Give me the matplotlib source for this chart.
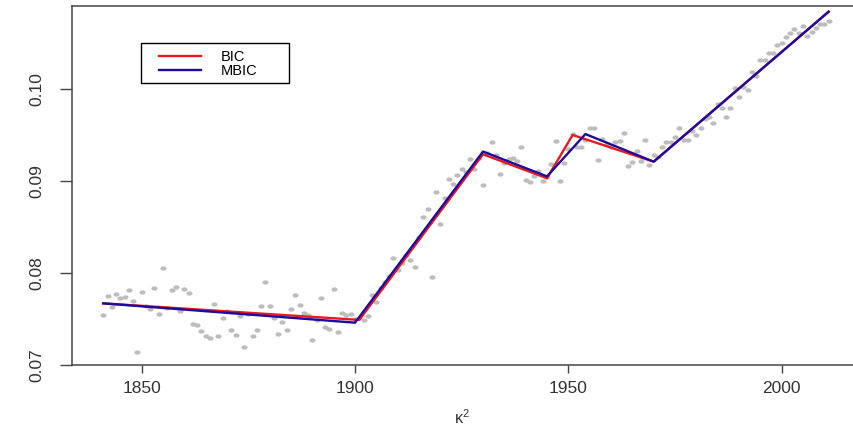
import numpy as np
import matplotlib
matplotlib.use("Agg")
import matplotlib.pyplot as plt
from matplotlib.path import Path

plt.rcParams['font.family'] = ['Liberation Sans', 'DejaVu Sans']
plt.rcParams['mathtext.fontset'] = 'custom'
plt.rcParams['mathtext.rm'] = 'Liberation Sans'
plt.rcParams['mathtext.it'] = 'Liberation Sans:italic'

# jaehrliche Beobachtungen 1841-2011
jahre = np.arange(1841, 2012)
werte = [
    0.0754, 0.0775, 0.0763, 0.0777, 0.0773, 0.0774, 0.0781, 0.0770, 0.0714, 0.0779,
    0.0764, 0.0761, 0.0784, 0.0755, 0.0805, 0.0762, 0.0781, 0.0785, 0.0759, 0.0783,
    0.0778, 0.0745, 0.0744, 0.0737, 0.0732, 0.0729, 0.0766, 0.0731, 0.0751, 0.0759,
    0.0738, 0.0733, 0.0753, 0.0720, 0.0755, 0.0731, 0.0738, 0.0764, 0.0790, 0.0764,
    0.0751, 0.0734, 0.0747, 0.0738, 0.0761, 0.0776, 0.0765, 0.0756, 0.0754, 0.0727,
    0.0749, 0.0773, 0.0741, 0.0739, 0.0783, 0.0736, 0.0756, 0.0754, 0.0755, 0.0750,
    0.0751, 0.0749, 0.0753, 0.0776, 0.0768, 0.0784, 0.0790, 0.0797, 0.0816, 0.0803,
    0.0811, 0.0820, 0.0814, 0.0807, 0.0839, 0.0861, 0.0870, 0.0796, 0.0888, 0.0853,
    0.0881, 0.0902, 0.0897, 0.0906, 0.0913, 0.0910, 0.0924, 0.0913, 0.0925, 0.0896,
    0.0930, 0.0942, 0.0928, 0.0908, 0.0920, 0.0924, 0.0925, 0.0922, 0.0937, 0.0901,
    0.0899, 0.0905, 0.0911, 0.0900, 0.0904, 0.0918, 0.0944, 0.0900, 0.0920, 0.0935,
    0.0951, 0.0937, 0.0937, 0.0945, 0.0958, 0.0958, 0.0923, 0.0946, 0.0940, 0.0937,
    0.0942, 0.0943, 0.0952, 0.0916, 0.0921, 0.0933, 0.0922, 0.0945, 0.0917, 0.0928,
    0.0926, 0.0937, 0.0942, 0.0942, 0.0948, 0.0958, 0.0945, 0.0945, 0.0954, 0.0950,
    0.0958, 0.0967, 0.0970, 0.0963, 0.0984, 0.0979, 0.0970, 0.0979, 0.1001, 0.0991,
    0.1002, 0.0999, 0.1019, 0.1014, 0.1032, 0.1032, 0.1039, 0.1039, 0.1048, 0.1050,
    0.1056, 0.1061, 0.1065, 0.1061, 0.1068, 0.1058, 0.1062, 0.1066, 0.1071, 0.1071, 0.1074,
]

# stueckweise lineare Fits
bic_jahre = [1841, 1901, 1930, 1945, 1951, 1970, 2011]
bic_werte = [0.0767, 0.0749, 0.0929, 0.0903, 0.0950, 0.0921, 0.1084]
mbic_jahre = [1841, 1900, 1930, 1945, 1954, 1970, 2011]
mbic_werte = [0.0767, 0.0746, 0.0932, 0.0905, 0.0951, 0.0921, 0.1084]

x_ticks = [1850, 1900, 1950, 2000]
y_ticks = [0.07, 0.08, 0.09, 0.10]

W, H = 854, 426
fig = plt.figure(figsize=(W / 100, H / 100), dpi=100)
ax = fig.add_axes([72 / W, (H - 365) / H, 798 / W, 359 / H])

# leicht gestreckter Punkt (Bild ist horizontal gedehnt)
t = np.linspace(0, 2 * np.pi, 40)
ellipse = Path(np.column_stack([1.4 * np.cos(t), np.sin(t)]), closed=True)

ax.plot(jahre, werte, linestyle='none', marker=ellipse, markersize=4.4,
        color='#bdbdbd', markeredgewidth=0)
ax.plot(bic_jahre, bic_werte, color='#e8191f', linewidth=1.7, label='BIC')
ax.plot(mbic_jahre, mbic_werte, color='#1c0b9c', linewidth=1.7, label='MBIC')

ax.set_xlim(1833.67, 2020.7)
ax.set_ylim(0.07, 0.10902)
ax.set_xticks(x_ticks)
ax.set_xticklabels([str(v) for v in x_ticks])
ax.set_yticks(y_ticks)
ax.set_yticklabels(['0.07', '0.08', '0.09', '0.10'])

for s in ['left', 'bottom', 'top']:
    ax.spines[s].set_color('#444444')
    ax.spines[s].set_linewidth(1.1)
ax.spines['right'].set_visible(False)

ax.tick_params(axis='x', length=5.8, width=1.0, color='#444444',
               labelsize=12.5, labelcolor='#333333', pad=6)
ax.tick_params(axis='y', length=9.0, width=1.0, color='#444444',
               labelsize=12.5, labelcolor='#333333', pad=11)
for lab in ax.get_yticklabels():
    lab.set_rotation(90)
    lab.set_va('center')

fig.text(462 / W, 1 - 418 / H, r'$\mathrm{\kappa}^2$', ha='center', va='center',
         fontsize=11.5, color='#333333')

# Legendenrahmen wie in R
rahmen = plt.Rectangle((140.7 / W, 1 - 83.3 / H), 148.6 / W, 40 / H,
                       transform=fig.transFigure, fill=False,
                       edgecolor='black', linewidth=1.0)
fig.patches.append(rahmen)
ax.legend(loc='center left', bbox_to_anchor=(159 / W, 1 - 64 / H),
          bbox_transform=fig.transFigure, frameon=False, fontsize=10.5,
          borderpad=0, borderaxespad=0, handlelength=2.9, handletextpad=1.35,
          labelspacing=0.0)

fig.savefig('out.png', dpi=100)
